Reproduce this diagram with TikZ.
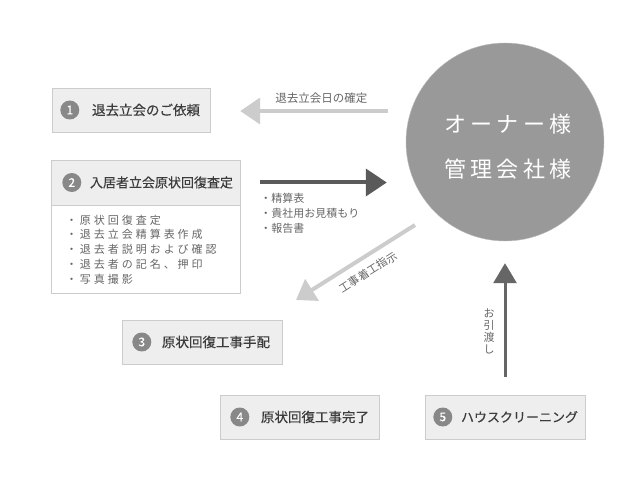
\documentclass[tikz,border=0pt]{standalone}
\usepackage{fontspec}
\setmainfont{Noto Sans CJK JP}
\newfontfamily\wide[LetterSpace=27]{Noto Sans CJK JP}
\newfontfamily\roomy[LetterSpace=20]{Noto Sans CJK JP}
\newfontfamily\heavy[FakeBold=0.4]{Noto Sans CJK JP}
\usetikzlibrary{arrows.meta,positioning}
\definecolor{boxfill}{HTML}{EEEEEE}
\definecolor{boxline}{HTML}{CCCCCC}
\definecolor{badgegray}{HTML}{888888}
\definecolor{headgray}{HTML}{3C3C3C}
\definecolor{notegray}{HTML}{666666}
\definecolor{ownergray}{HTML}{999999}
\definecolor{ownerline}{HTML}{BDBDBD}
\definecolor{pale}{HTML}{CCCCCC}
\definecolor{dark}{HTML}{5A5A5A}

\begin{document}
\begin{tikzpicture}[x=1pt,y=-1pt,
    box/.style={draw=boxline, fill=boxfill, minimum height=44pt, inner sep=0pt},
    badge/.style={circle, fill=badgegray, minimum size=19pt, inner sep=0pt, text=white,
      font=\fontsize{12}{12}\selectfont\heavy},
    headtxt/.style={inner sep=0pt, anchor=west, text=headgray, font=\fontsize{13.5}{16}\selectfont\heavy},
    notetxt/.style={inner sep=0pt, text=notegray, font=\fontsize{11}{15}\selectfont},
    palearrow/.style={draw=pale, line width=4pt, -{Triangle[length=20pt,width=26pt]}},
    darkarrow/.style={draw=dark, line width=4pt, -{Triangle[length=21pt,width=27pt]}}
  ]
    \useasboundingbox (0,0) rectangle (630,500);

    \node[circle, minimum size=198pt, fill=ownergray, draw=ownerline] (owner) at (505,142) {};
    \node[align=center, text=white, font=\fontsize{22}{45}\selectfont\roomy] (ownertxt)
      at ([shift={(3,5)}]owner.center) {オーナー様\\管理会社様};

    \node[box, minimum width=158pt] (box1) at (131,110) {};
    \node[badge] (no1) at ([shift={(18,0)}]box1.west) {1};
    \node[headtxt] (txt1) at ([shift={(40,0)}]box1.west) {退去立会のご依頼};

    \node[box, minimum width=189pt, minimum height=45pt] (head2) at (145.5,182.5) {};
    \node[draw=boxline, fill=white, minimum width=189pt, minimum height=88pt, inner sep=0pt,
      anchor=north] (body2) at (head2.south) {};
    \node[badge] (no2) at ([shift={(21,0)}]head2.west) {2};
    \node[headtxt, font=\fontsize{13}{16}\selectfont\heavy] (txt2) at ([shift={(39,0)}]head2.west) {入居者立会原状回復査定};
    \node[notetxt, align=left, anchor=north west, font=\fontsize{11}{14.8}\selectfont\wide] (list2)
      at ([shift={(15,9.5)}]body2.north west)
      {・原状回復査定\\・退去立会精算表作成\\・退去者説明および確認\\・退去者の記名、押印\\・写真撮影};

    \node[box, minimum width=160pt] (box3) at (202,342) {};
    \node[badge] (no3) at ([shift={(20,0)}]box3.west) {3};
    \node[headtxt] (txt3) at ([shift={(40,0)}]box3.west) {原状回復工事手配};

    \node[box, minimum width=159pt] (box4) at (299.5,417) {};
    \node[badge] (no4) at ([shift={(20,0)}]box4.west) {4};
    \node[headtxt] (txt4) at ([shift={(41,0)}]box4.west) {原状回復工事完了};

    \node[box, minimum width=160pt] (box5) at (505,417) {};
    \node[badge] (no5) at ([shift={(18,0)}]box5.west) {5};
    \node[headtxt, font=\fontsize{13}{16}\selectfont\heavy] (txt5) at ([shift={(36,0)}]box5.west) {ハウスクリーニング};

    % arrows
    \draw[palearrow] ([shift={(-18,1)}]owner.west |- box1.east) -- ([shift={(30,1)}]box1.east)
      node[pos=0.45, above=5pt, notetxt, font=\fontsize{11.5}{14}\selectfont] (lbl1) {退去立会日の確定};

    \draw[darkarrow] ([shift={(20,0)}]head2.east) -- ([shift={(-19,0)}]owner.west |- head2.east);
    \node[notetxt, align=left, anchor=north west] (list3) at ([shift={(20,11)}]head2.east)
      {・精算表\\・貴社用お見積もり\\・報告書};

    \coordinate (from3) at (415,225);
    \coordinate (to3) at (296,300);
    \draw[palearrow, -{Triangle[length=19pt,width=25pt]}] (from3) -- (to3)
      node[pos=0.46, sloped, below=8pt, notetxt, font=\fontsize{11}{14}\selectfont] (lbl3) {工事着工指示};

    \draw[darkarrow, draw=notegray, line width=3pt, -{Triangle[length=20pt,width=23pt]}]
      ([shift={(0,-18)}]box5.north) -- ([shift={(0,22)}]owner.south)
      node[pos=0.4, left=9pt, notetxt, align=center, font=\fontsize{11}{12}\selectfont] (lbl4) {お\\引\\渡\\し};
\end{tikzpicture}
\end{document}
